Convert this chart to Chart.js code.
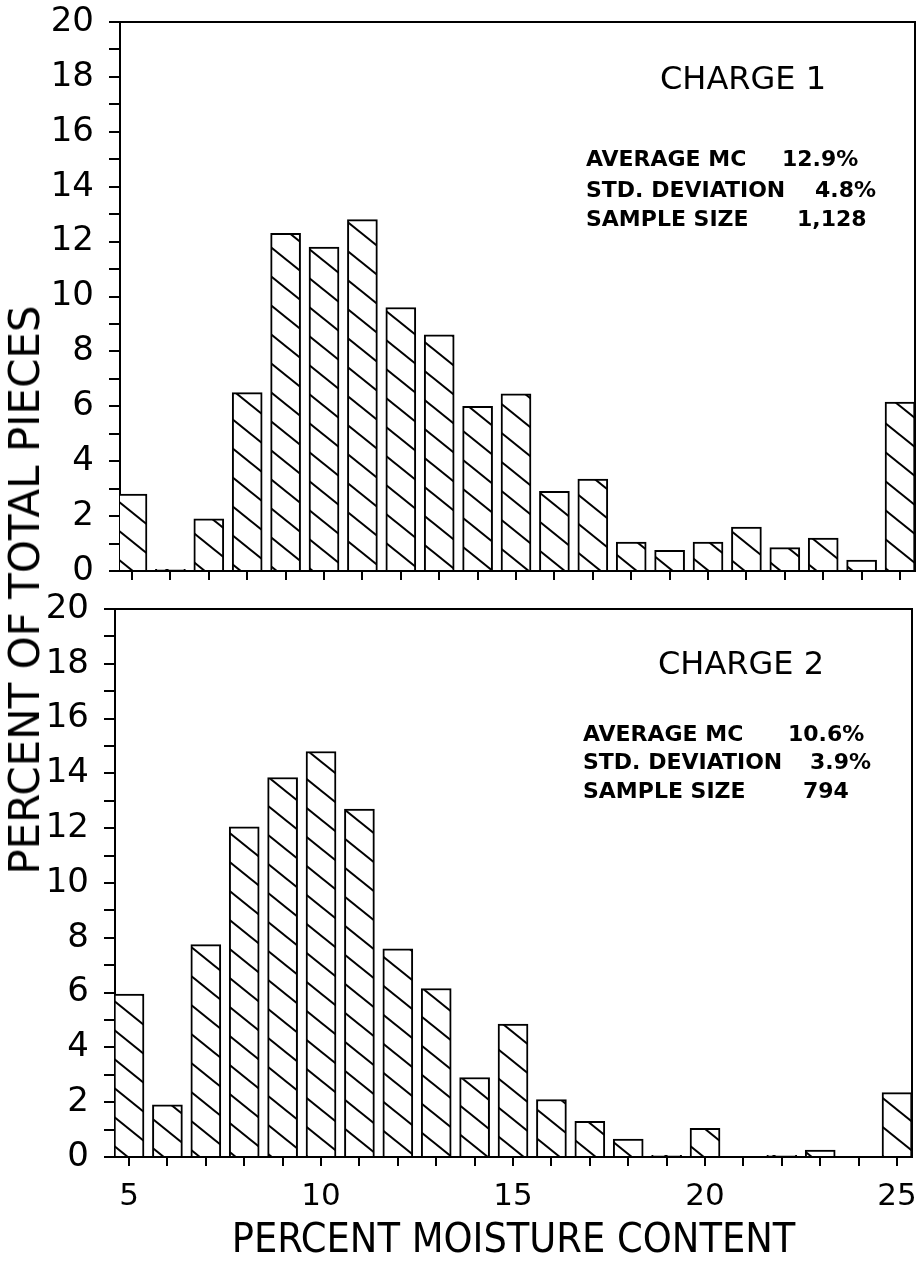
<!DOCTYPE html>
<html>
<head>
<meta charset="utf-8">
<script src="https://cdn.jsdelivr.net/npm/chart.js@4.4.0/dist/chart.umd.min.js"></script>
<style>
  html,body{margin:0;padding:0;background:#fff;}
  body{width:916px;height:1279px;position:relative;overflow:hidden;}
  canvas{position:absolute;left:0;}
  #c1{top:0;}
  #c2{top:590px;}
  #ytitle{position:absolute;left:25px;top:590px;transform:translate(-50%,-50%) rotate(-90deg);
    font-family:"DejaVu Sans",sans-serif;font-size:42px;line-height:1;white-space:nowrap;color:#000;}
</style>
</head>
<body>
<canvas id="c1" width="916" height="600"></canvas>
<canvas id="c2" width="916" height="689"></canvas>
<div id="ytitle">PERCENT OF TOTAL PIECES</div>
<script>
// ---- data ----
const bins = [5,6,7,8,9,10,11,12,13,14,15,16,17,18,19,20,21,22,23,24,25];
const charge1 = [2.8,0.06,1.9,6.5,12.3,11.8,12.8,9.6,8.6,6.0,6.45,2.9,3.35,1.05,0.75,1.05,1.6,0.85,1.2,0.4,6.15];
const charge2 = [5.95,1.9,7.75,12.05,13.85,14.8,12.7,7.6,6.15,2.9,4.85,2.1,1.3,0.65,0.06,1.05,0,0.06,0.25,0,2.35];
const yTicks = [0,1,2,3,4,5,6,7,8,9,10,11,12,13,14,15,16,17,18,19,20];
const xLabelValues = [5,10,15,20,25];
const title1 = 'CHARGE 1';
const title2 = 'CHARGE 2';
const statLabels = ['AVERAGE MC','STD. DEVIATION','SAMPLE SIZE'];
const stats1 = ['12.9%','4.8%','1,128'];
const stats2 = ['10.6%','3.9%','794'];
const xTitle = 'PERCENT MOISTURE CONTENT';

function makeHatch(){
  const W=36,H=29;
  const c=document.createElement('canvas'); c.width=W; c.height=H;
  const g=c.getContext('2d');
  g.fillStyle='#fff'; g.fillRect(0,0,W,H);
  g.strokeStyle='#000'; g.lineWidth=2;
  for(let k=-1;k<=1;k++){
    g.beginPath(); g.moveTo(-2, k*H - 2*H/W); g.lineTo(W+2, k*H + H + 2*H/W); g.stroke();
  }
  return g.createPattern(c,'repeat');
}

const FONT = '"DejaVu Sans", sans-serif';

function boxAndText(texts){
  return {
    id:'boxText',
    afterDatasetsDraw(chart){
      const {ctx, chartArea:a} = chart;
      ctx.save();
      ctx.strokeStyle='#000'; ctx.lineWidth=2;
      ctx.beginPath();
      ctx.moveTo(a.left-10, a.top); ctx.lineTo(a.right, a.top); ctx.lineTo(a.right, a.bottom);
      ctx.stroke();
      ctx.fillStyle='#000';
      ctx.textBaseline='middle';
      ctx.font = '32px '+FONT;
      ctx.fillText(texts.title, texts.tx, texts.ty);
      ctx.font = 'bold 22px '+FONT;
      texts.labels.forEach((l,i)=>{
        ctx.fillText(l, texts.lx, texts.ly[i]);
        ctx.fillText(texts.values[i], texts.vx[i], texts.ly[i]);
      });
      ctx.restore();
    }
  };
}

function zeroPad(s){ s.paddingLeft=0; s.paddingRight=0; s.paddingTop=0; s.paddingBottom=0; }

function makeChart(id, values, opt){
  const ctx = document.getElementById(id).getContext('2d');
  return new Chart(ctx, {
    type:'bar',
    data:{datasets:[{
      data: bins.map((b,i)=>({x:b, y:values[i]})),
      backgroundColor: makeHatch(),
      borderColor:'#000', borderWidth:2, borderSkipped:'bottom',
      barThickness:30
    }]},
    options:{
      responsive:false, animation:false,
      layout:{padding:{top:opt.padTop, right:opt.padRight, left:0, bottom:0}},
      plugins:{legend:{display:false}, tooltip:{enabled:false}},
      scales:{
        x:{
          type:'linear', min:opt.xmin, max:opt.xmax, offset:false,
          afterBuildTicks:s=>{ s.ticks = bins.map(v=>({value:v})); },
          afterFit:s=>{ s.height = opt.xh; zeroPad(s); },
          grid:{display:true, offset:false, drawOnChartArea:false, drawTicks:true, tickLength:9, color:'#000', lineWidth:2},
          border:{display:true, color:'#000', width:2},
          ticks:{autoSkip:false, maxRotation:0, padding:opt.xpad, color:'#000', font:{family:FONT, size:31},
            callback:v=> (opt.showX && xLabelValues.includes(v)) ? String(v) : ''},
          title:{display:opt.showX, text:xTitle, color:'#000',
            font:{family:'"DejaVu Sans Condensed", "Liberation Sans Narrow", sans-serif', size:41},
            padding:{top:0,bottom:13}}
        },
        y:{
          min:0, max:20,
          afterBuildTicks:s=>{ s.ticks = yTicks.map(v=>({value:v})); },
          afterFit:s=>{ s.width = opt.yw; zeroPad(s); },
          grid:{display:true, drawOnChartArea:false, drawTicks:true, tickLength:11, color:'#000', lineWidth:2},
          border:{display:true, color:'#000', width:2},
          ticks:{autoSkip:false, padding:15, color:'#000', font:{family:FONT, size:34},
            callback:v=> v%2===0 ? String(v) : ''}
        }
      }
    },
    plugins:[boxAndText(opt.texts)]
  });
}

makeChart('c1', charge1, {padTop:22, padRight:1, xmin:4.6875, xmax:25.39, xh:29, yw:120, showX:false, xpad:4,
  texts:{title:title1, tx:660, ty:81, labels:statLabels, values:stats1, lx:586, ly:[160,191,220], vx:[782,815,797]}});
makeChart('c2', charge2, {padTop:19, padRight:4, xmin:4.635, xmax:25.39, xh:122, yw:115, showX:true, xpad:12,
  texts:{title:title2, tx:658, ty:76, labels:statLabels, values:stats2, lx:583, ly:[145,173,202], vx:[788,810,803]}});
</script>
</body>
</html>
